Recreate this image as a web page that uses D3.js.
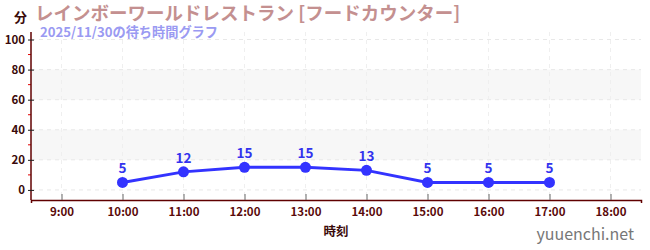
<!DOCTYPE html>
<html>
<head>
<meta charset="utf-8">
<script src="https://cdn.jsdelivr.net/npm/d3@7"></script>
<style>
  body { margin: 0; background: #fff; }
  svg text { font-family: "Noto Sans CJK JP", "Noto Sans", sans-serif; }
</style>
</head>
<body>
<div id="chart"></div>
<script>
// data
var hours = [10, 11, 12, 13, 14, 15, 16, 17];
var waits = [5, 12, 15, 15, 13, 5, 5, 5];
var xTicks = [9, 10, 11, 12, 13, 14, 15, 16, 17, 18];
var yTicks = [0, 20, 40, 60, 80, 100];
var bands = [[20, 40], [60, 80]];
var title = "レインボーワールドレストラン [フードカウンター]";
var subtitle = "2025/11/30の待ち時間グラフ";

var width = 650, height = 250;
var margin = {top: 32, right: 9, bottom: 50, left: 31};

var svg = d3.select("#chart").append("svg")
    .attr("width", width)
    .attr("height", height);

var x = d3.scaleLinear()
    .domain([8.5, 18.5])
    .range([margin.left, width - margin.right]);
var y = d3.scaleLinear()
    .domain([-6.7, 105])
    .range([height - margin.bottom, margin.top]);

// background bands
svg.append("g").selectAll("rect")
    .data(bands)
    .enter().append("rect")
    .attr("x", margin.left)
    .attr("width", width - margin.right - margin.left)
    .attr("y", function (d) { return y(d[1]); })
    .attr("height", function (d) { return y(d[0]) - y(d[1]); })
    .attr("fill", "#f7f7f7");

// grid
svg.append("g").selectAll("line")
    .data(yTicks)
    .enter().append("line")
    .attr("x1", margin.left).attr("x2", width - margin.right)
    .attr("y1", y).attr("y2", y)
    .attr("stroke", "#e8e8e8")
    .attr("stroke-dasharray", "4,4");
svg.append("g").selectAll("line")
    .data(xTicks)
    .enter().append("line")
    .attr("x1", x).attr("x2", x)
    .attr("y1", margin.top).attr("y2", height - margin.bottom)
    .attr("stroke", "#efefef")
    .attr("stroke-dasharray", "4,4");

// axes
var xAxis = svg.append("g")
    .attr("transform", "translate(0," + (height - margin.bottom) + ")")
    .call(d3.axisBottom(x).tickValues(xTicks).tickSize(3).tickPadding(5)
        .tickFormat(function (d) { return d + ":00"; }));
xAxis.select(".domain").attr("stroke", "#600000").attr("stroke-width", 1.5);
xAxis.selectAll(".tick line").attr("stroke", "#666").attr("transform", "translate(0,-6)").attr("y2", 6);
xAxis.selectAll("text").attr("fill", "#5a0a0a").attr("font-size", 11.5).attr("font-weight", "bold");

// minor ticks on y
svg.append("g").selectAll("line")
    .data(d3.range(10, 101, 20))
    .enter().append("line")
    .attr("x1", margin.left - 3).attr("x2", margin.left)
    .attr("y1", y).attr("y2", y)
    .attr("stroke", "#e00000");

var yAxis = svg.append("g")
    .attr("transform", "translate(" + margin.left + ",0)")
    .call(d3.axisLeft(y).tickValues(yTicks).tickSize(3).tickPadding(3));
yAxis.select(".domain").attr("stroke", "#600000").attr("stroke-width", 1.5)
    .attr("d", "M0," + margin.top + "V" + (height - margin.bottom));
yAxis.selectAll(".tick line").attr("stroke", "#222").attr("x2", 3).attr("x1", -3);
yAxis.selectAll("text").attr("fill", "#3a0a0a").attr("font-size", 11.5).attr("font-weight", "bold");

// line + points
var line = d3.line()
    .x(function (d, i) { return x(hours[i]); })
    .y(function (d) { return y(d); });

svg.append("path")
    .datum(waits)
    .attr("d", line)
    .attr("fill", "none")
    .attr("stroke", "#3333ff")
    .attr("stroke-width", 3);

svg.append("g").selectAll("circle")
    .data(waits)
    .enter().append("circle")
    .attr("cx", function (d, i) { return x(hours[i]); })
    .attr("cy", y)
    .attr("r", 5.5)
    .attr("fill", "#3333ff");

svg.append("g").selectAll("text")
    .data(waits)
    .enter().append("text")
    .attr("x", function (d, i) { return x(hours[i]); })
    .attr("y", function (d) { return y(d) - 9; })
    .attr("text-anchor", "middle")
    .attr("font-size", 13.5)
    .attr("font-weight", "bold")
    .attr("fill", "#3333ee")
    .text(function (d) { return d; });

// titles
svg.append("text")
    .attr("x", 14).attr("y", 22)
    .attr("font-size", 13).attr("font-weight", "bold")
    .attr("fill", "#3a0a0a")
    .text("分");
svg.append("text")
    .attr("x", 35).attr("y", 20)
    .attr("font-size", 18.5).attr("font-weight", "bold")
    .attr("fill", "#c49090")
    .text(title);
svg.append("text")
    .attr("x", 40).attr("y", 37)
    .attr("font-size", 13.2).attr("font-weight", "bold")
    .attr("fill", "#9a9af2")
    .text(subtitle);

svg.append("text")
    .attr("x", (margin.left + width - margin.right) / 2).attr("y", 236)
    .attr("text-anchor", "middle")
    .attr("font-size", 12.5).attr("font-weight", "bold")
    .attr("fill", "#3a0a0a")
    .text("時刻");

svg.append("text")
    .attr("x", 634).attr("y", 240)
    .attr("text-anchor", "end")
    .attr("font-size", 16)
    .attr("fill", "#777")
    .text("yuuenchi.net");
</script>
</body>
</html>
